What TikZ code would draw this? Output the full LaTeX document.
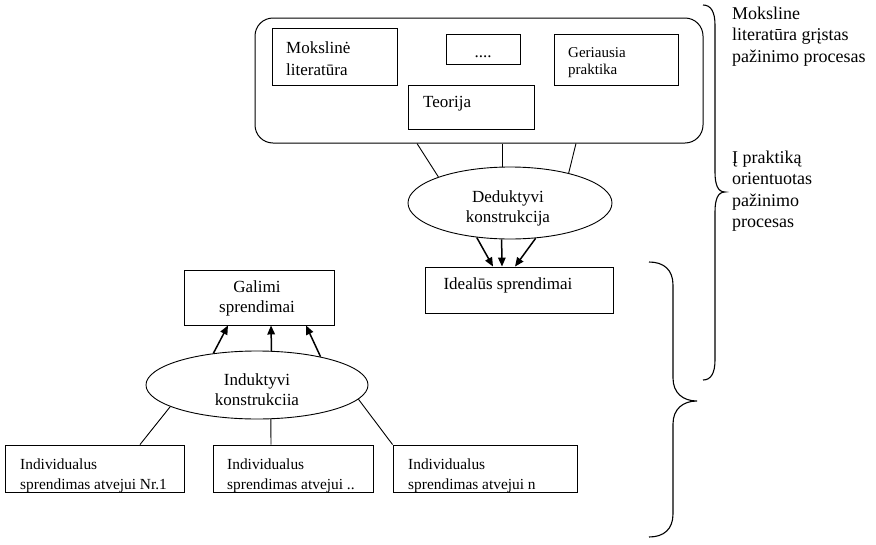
\documentclass[tikz,border=0pt]{standalone}
\usepackage{fontspec}
\setmainfont{Liberation Serif}
\usetikzlibrary{shapes.geometric,arrows.meta,calc}
\begin{document}
\begin{tikzpicture}[x=1pt,y=-1pt,
  box/.style={draw, line width=0.9pt, inner sep=0pt},
  frame/.style={draw, line width=1pt, rounded corners=18pt, inner sep=0pt,
    minimum width=448pt, minimum height=125pt},
  oval/.style={draw, ellipse, line width=0.9pt, inner sep=0pt},
  link/.style={line width=0.9pt},
  push/.style={line width=1.5pt, -{Triangle[length=9pt,width=7.5pt]}},
  brace/.style={line width=1.1pt},
  txt/.style={inner sep=0pt, align=left, font=\fontsize{17}{22}\selectfont},
  ctxt/.style={inner sep=0pt, align=center, font=\fontsize{17}{20}\selectfont},
  small/.style={inner sep=0pt, align=left, font=\fontsize{15.4}{20}\selectfont},
  side/.style={inner sep=0pt, align=left, font=\fontsize{18}{21.5}\selectfont}]
\useasboundingbox (0,0) rectangle (876,544);

% knowledge sources (text nodes are anchored on the baseline of their last line)
\node[frame] (src) at (479,80.5) {};
\node[box, minimum width=125pt, minimum height=57pt] (lit) at (334.5,56.5) {};
\node[txt, anchor=base west] (litt) at (286,75) {Mokslinė\\literatūra};
\node[box, minimum width=74pt, minimum height=30pt] (etc) at (483,49) {};
\node[txt, anchor=base] (etct) at (483,57) {....};
\node[box, minimum width=124pt, minimum height=51pt] (best) at (616,59.5) {};
\node[txt, anchor=base west, font=\fontsize{15}{17}\selectfont] (bestt) at (568,74) {Geriausia\\praktika};
\node[box, minimum width=126pt, minimum height=44pt] (theo) at (471,107) {};
\node[txt, anchor=base west] (theot) at (423,107) {Teorija};

% deductive branch
\node[oval, minimum width=204pt, minimum height=72pt] (ded) at (510,203) {};
\node[ctxt, anchor=base] (dedt) at (508,222) {Deduktyvi\\konstrukcija};
\node[box, minimum width=188pt, minimum height=46pt] (ideal) at (519,290) {};
\node[txt, anchor=base] (idealt) at (508,289) {Idealūs sprendimai};

\draw[link] ($(src.south)+(-62,0)$) -- (ded.160);
\draw[link] ($(src.south)+(23,0)$) -- (ded.north -| {$(src.south)+(23,0)$});
\draw[link] ($(src.south)+(97,0)$) -- (ded.27);

\draw[push] (ded.226) -- ($(ideal.north)+(-26,0)$);
\draw[push] (ded.257) -- ($(ideal.north)+(-17,0)$);
\draw[push] (ded.306) -- ($(ideal.north)+(-4,0)$);

% inductive branch
\node[box, minimum width=150pt, minimum height=55pt] (poss) at (259,297.5) {};
\node[ctxt, anchor=base] (posst) at (257,312) {Galimi\\sprendimai};
\node[oval, minimum width=222pt, minimum height=68pt] (ind) at (257,385) {};
\node[ctxt, anchor=base] (indt) at (257,405) {Induktyvi\\konstrukciia};

\draw[push] (ind.144) -- ($(poss.south)+(-31,0)$);
\draw[push] (ind.67) -- ($(poss.south)+(12,0)$);
\draw[push] (ind.24) -- ($(poss.south)+(47,0)$);

\node[box, minimum width=179pt, minimum height=47pt] (c1) at (94.5,468.5) {};
\node[box, minimum width=160pt, minimum height=47pt] (c2) at (293,468.5) {};
\node[box, minimum width=184pt, minimum height=47pt] (c3) at (485,468.5) {};
\begin{scope}
  \clip (c1.north west) rectangle (c1.south east);
  \node[small, anchor=base west] (c1t) at (20,489.5) {Individualus\\sprendimas atvejui Nr.1};
\end{scope}
\begin{scope}
  \clip (c2.north west) rectangle (c2.south east);
  \node[small, anchor=base west] (c2t) at (227,489.5) {Individualus\\sprendimas atvejui ..};
\end{scope}
\begin{scope}
  \clip (c3.north west) rectangle (c3.south east);
  \node[small, anchor=base west] (c3t) at (408,489.5) {Individualus\\sprendimas atvejui n};
\end{scope}

\draw[link] (ind.194) -- ($(c1.north)+(45.5,0)$);
\draw[link] (ind.292) -- ($(c2.north)+(-22,0)$);
\draw[link] (ind.352) -- (c3.north west);

% grouping braces with their captions
\draw[brace] (703,5) .. controls (711,5) and (715,12) .. (715,25)
  -- (715,172) .. controls (715,185) and (718,192) .. (725,192)
  .. controls (718,192) and (715,199) .. (715,212)
  -- (715,360) .. controls (715,373) and (711,380) .. (703,380);
\draw[brace] (649,262) .. controls (664,262) and (673,270) .. (673,285)
  -- (673,378) .. controls (673,393) and (683,401) .. (697,401)
  .. controls (683,401) and (673,409) .. (673,424)
  -- (673,514) .. controls (673,529) and (664,537) .. (649,537);
\node[side, anchor=base west] (cap1) at (732,62) {Moksline\\literatūra grįstas\\pažinimo procesas};
\node[side, anchor=base west] (cap2) at (732,227.5) {Į praktiką\\orientuotas\\pažinimo\\procesas};
\end{tikzpicture}
\end{document}
